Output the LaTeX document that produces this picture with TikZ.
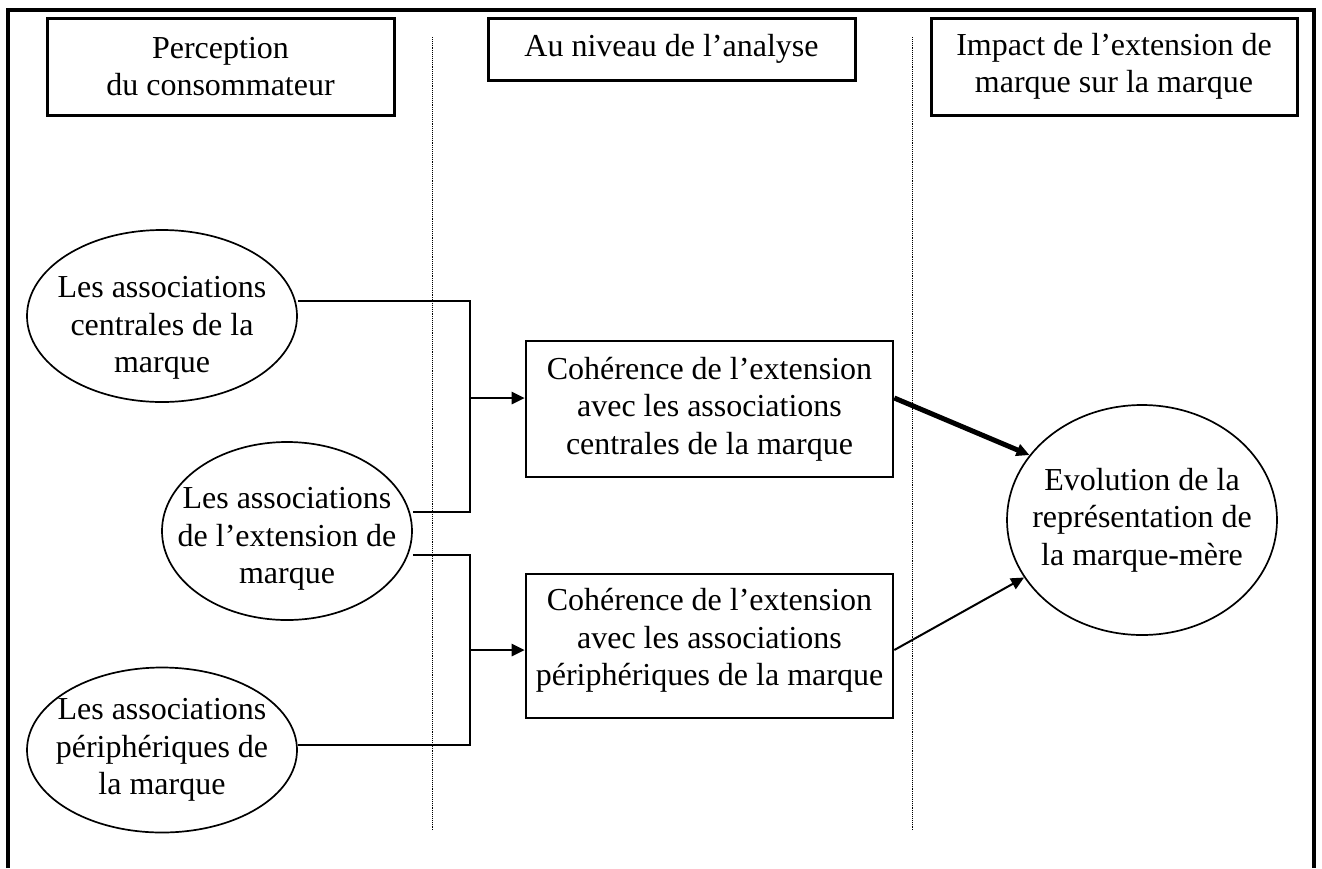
\documentclass[tikz,border=0pt]{standalone}
\usepackage{fontspec}
\setmainfont{Liberation Serif}
\usetikzlibrary{arrows.meta,shapes.geometric}

\begin{document}
\begin{tikzpicture}[x=1pt, y=-1pt, font=\fontsize{32}{37.5}\selectfont]
\useasboundingbox (0,0) rectangle (1322,868);
\draw[line width=3.5pt] (8,868) -- (8,10) -- (1314,10) -- (1314,868);
\draw[densely dotted, line width=0.9pt] (432,37) -- (432,830);
\draw[densely dotted, line width=0.9pt] (912,37) -- (912,830);

\begin{scope}[every node/.style={rectangle,draw,line width=3pt,align=center,inner sep=0pt}]
    \node[minimum width=347pt, minimum height=97pt] (hcons) at (220.5,66.5) {Perception\\du consommateur};
    \node[minimum width=367pt, minimum height=62pt] (hanal) at (671.5,49) {Au niveau de l’analyse};
    \node[minimum width=366pt, minimum height=97pt] (himpa) at (1114,66.5) {Impact de l’extension de\\marque sur la marque};
\end{scope}
\begin{scope}[every node/.style={rectangle,draw,line width=2.6pt,align=center,inner sep=0pt}]
    \node[minimum width=367pt, minimum height=136pt] (cohcen) at (709.5,409) {Cohérence de l’extension\\avec les associations\\centrales de la marque};
    \node[minimum width=367pt, minimum height=144pt] (cohper) at (709.5,646) {Cohérence de l’extension\\avec les associations\\périphériques de la marque\\[-20pt]\mbox{}};
\end{scope}
\begin{scope}[every node/.style={ellipse,draw,line width=1.7pt,align=center,inner sep=-60pt}]
    \node[minimum width=270pt, minimum height=172pt] (acen) at (162,316) {\mbox{}\\[8pt]Les associations\\centrales de la\\marque};
    \node[minimum width=250pt, minimum height=178pt] (aext) at (287,531) {\mbox{}\\Les associations\\de l’extension de\\marque};
    \node[minimum width=270pt, minimum height=165pt] (aper) at (162,750) {Les associations\\périphériques de\\la marque};
    \node[minimum width=270pt, minimum height=230pt] (evol) at (1142,520) {Evolution de la\\représentation de\\la marque-mère};
\end{scope}

\coordinate (jcen) at (470,398);
\coordinate (jper) at (470,650);
\begin{scope}[>={Triangle[length=13pt,width=12pt]}, line width=2.6pt]
    \draw ([yshift=15pt]acen.east) -| (470,512) -- ([yshift=19pt]aext.east);
    \draw ([yshift=-24pt]aext.east) -| (470,745) -- ([yshift=5pt]aper.east);
    \path [->] (jcen) edge (jcen -| cohcen.west);
    \path [->] (jper) edge (jper -| cohper.west);
    \path [->] (jcen -| cohcen.east) edge[line width=5pt] (evol.150);
    \path [->] (jper -| cohper.east) edge[line width=2pt] (evol.206);
\end{scope}
\end{tikzpicture}
\end{document}
